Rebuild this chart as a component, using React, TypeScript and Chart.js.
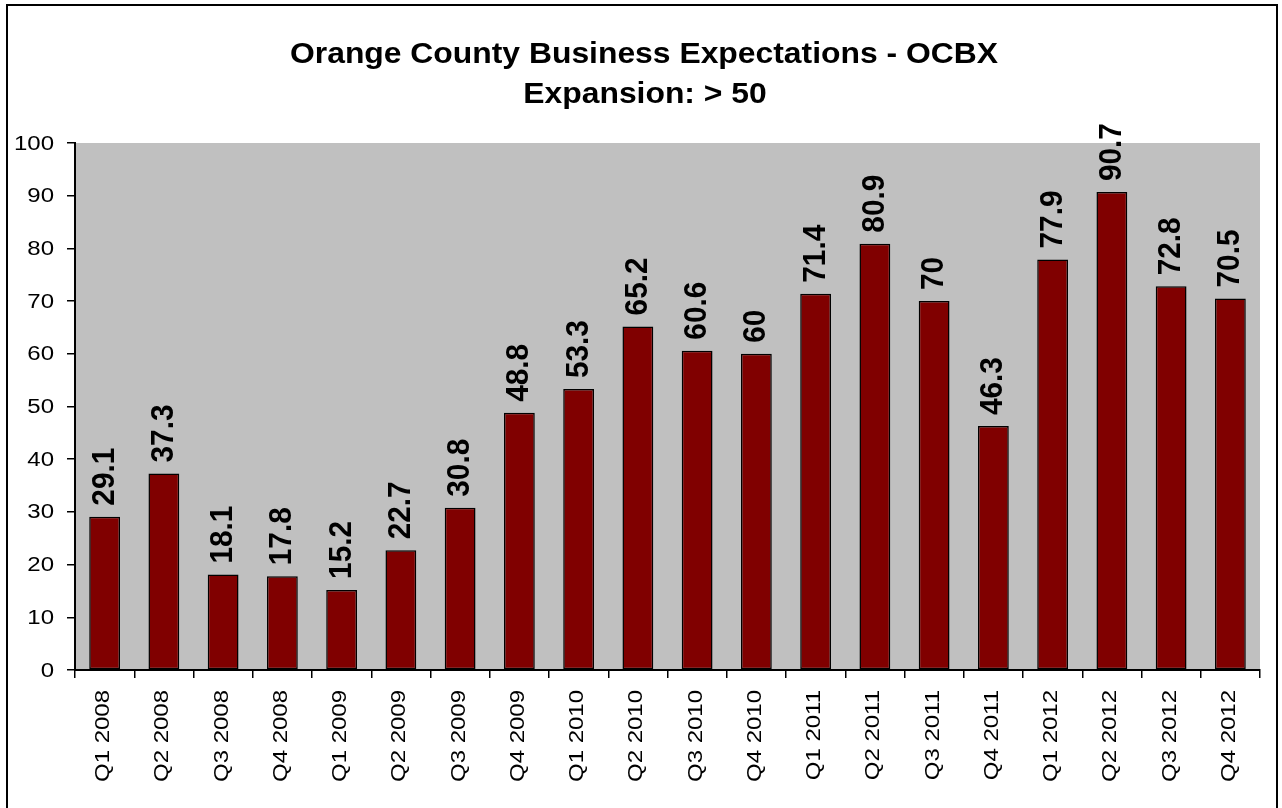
import React, { useEffect, useRef } from "react";
import { Chart, registerables } from "chart.js";

Chart.register(...registerables);

const titleLines = ["Orange County Business Expectations - OCBX", "Expansion: > 50"];

const categories = [
  "Q1 2008", "Q2 2008", "Q3 2008", "Q4 2008",
  "Q1 2009", "Q2 2009", "Q3 2009", "Q4 2009",
  "Q1 2010", "Q2 2010", "Q3 2010", "Q4 2010",
  "Q1 2011", "Q2 2011", "Q3 2011", "Q4 2011",
  "Q1 2012", "Q2 2012", "Q3 2012", "Q4 2012",
];

const values = [
  29.1, 37.3, 18.1, 17.8,
  15.2, 22.7, 30.8, 48.8,
  53.3, 65.2, 60.6, 60,
  71.4, 80.9, 70, 46.3,
  77.9, 90.7, 72.8, 70.5,
];

const yMin = 0;
const yMax = 100;
const yStep = 10;

const FONT = '"Liberation Sans", Arial, Helvetica, sans-serif';

function drawText(
  ctx: CanvasRenderingContext2D,
  text: string,
  x: number,
  y: number,
  rot: number,
  sx: number,
  align: CanvasTextAlign,
  baseline: CanvasTextBaseline,
  font: string
) {
  ctx.save();
  ctx.translate(x, y);
  ctx.rotate(rot);
  ctx.scale(sx, 1);
  ctx.font = font;
  ctx.textAlign = align;
  ctx.textBaseline = baseline;
  ctx.fillStyle = "#000";
  ctx.fillText(text, 0, 0);
  ctx.restore();
}

const decorPlugin = {
  id: "decor",
  beforeDraw(chart: any) {
    const { ctx, chartArea } = chart;
    ctx.save();
    ctx.fillStyle = "#ffffff";
    ctx.fillRect(0, 0, chart.width, chart.height);
    ctx.fillStyle = "#C0C0C0";
    ctx.fillRect(chartArea.left, chartArea.top, chartArea.right - chartArea.left, chartArea.bottom - chartArea.top);
    ctx.restore();
  },
  afterDraw(chart: any) {
    const { ctx } = chart;
    const xScale = chart.scales.x;
    const yScale = chart.scales.y;

    // outer frame
    ctx.save();
    ctx.strokeStyle = "#000";
    ctx.lineWidth = 2;
    ctx.beginPath();
    ctx.moveTo(7, 812);
    ctx.lineTo(7, 5);
    ctx.lineTo(1277, 5);
    ctx.lineTo(1277, 812);
    ctx.stroke();
    ctx.restore();

    // title
    const titleFont = `bold 29px ${FONT}`;
    ctx.save();
    ctx.font = titleFont;
    const w1 = ctx.measureText(titleLines[0]).width;
    ctx.restore();
    const tsx = 708 / w1;
    drawText(ctx, titleLines[0], 644, 63, 0, tsx, "center", "alphabetic", titleFont);
    drawText(ctx, titleLines[1], 645, 103, 0, tsx, "center", "alphabetic", titleFont);

    // y tick labels
    yScale.ticks.forEach((t: any) => {
      const py = yScale.getPixelForValue(t.value);
      drawText(ctx, String(t.value), 54, py + 1, 0, 1.2, "right", "middle", `20px ${FONT}`);
    });

    // x tick labels
    categories.forEach((c, i) => {
      const px = xScale.getPixelForValue(i);
      drawText(ctx, c, px + 4.5, 690, -Math.PI / 2, 1.17, "right", "alphabetic", `20.5px ${FONT}`);
    });

    // data labels
    const meta = chart.getDatasetMeta(0);
    meta.data.forEach((bar: any, i: number) => {
      drawText(ctx, String(values[i]), bar.x + 9, bar.y - 11, -Math.PI / 2, 0.93, "left", "alphabetic", `bold 32px ${FONT}`);
    });
  },
};

export default function App() {
  const ref = useRef<HTMLCanvasElement | null>(null);

  useEffect(() => {
    if (!ref.current) return;
    const chart = new Chart(ref.current, {
      type: "bar",
      data: {
        labels: categories,
        datasets: [
          {
            data: values,
            backgroundColor: "#800000",
            borderColor: "#000000",
            borderWidth: 1.5,
            borderSkipped: false,
            barPercentage: 0.52,
            categoryPercentage: 1,
          },
        ],
      },
      options: {
        animation: false,
        responsive: false,
        devicePixelRatio: 1,
        layout: { padding: { top: 143, right: 22, left: 0, bottom: 0 } },
        plugins: {
          legend: { display: false },
          title: { display: false },
          tooltip: { enabled: false },
        },
        scales: {
          x: {
            type: "category",
            offset: true,
            ticks: { display: false, autoSkip: false },
            grid: {
              offset: true,
              drawOnChartArea: false,
              drawTicks: true,
              tickLength: 8,
              color: "#000",
              lineWidth: 1.5,
            },
            border: { display: true, color: "#000", width: 2 },
            afterFit: (s: any) => {
              s.height = 138;
            },
          },
          y: {
            min: yMin,
            max: yMax,
            ticks: { display: false, stepSize: yStep },
            grid: {
              drawOnChartArea: false,
              drawTicks: true,
              tickLength: 8,
              color: "#000",
              lineWidth: 1.5,
            },
            border: { display: true, color: "#000", width: 2 },
            afterFit: (s: any) => {
              s.width = 75;
            },
          },
        },
      },
      plugins: [decorPlugin],
    } as any);
    return () => chart.destroy();
  }, []);

  return (
    <div style={{ position: "fixed", left: 0, top: 0, width: 1282, height: 808, background: "#fff" }}>
      <canvas ref={ref} width={1282} height={808} style={{ width: 1282, height: 808, display: "block" }} />
    </div>
  );
}
